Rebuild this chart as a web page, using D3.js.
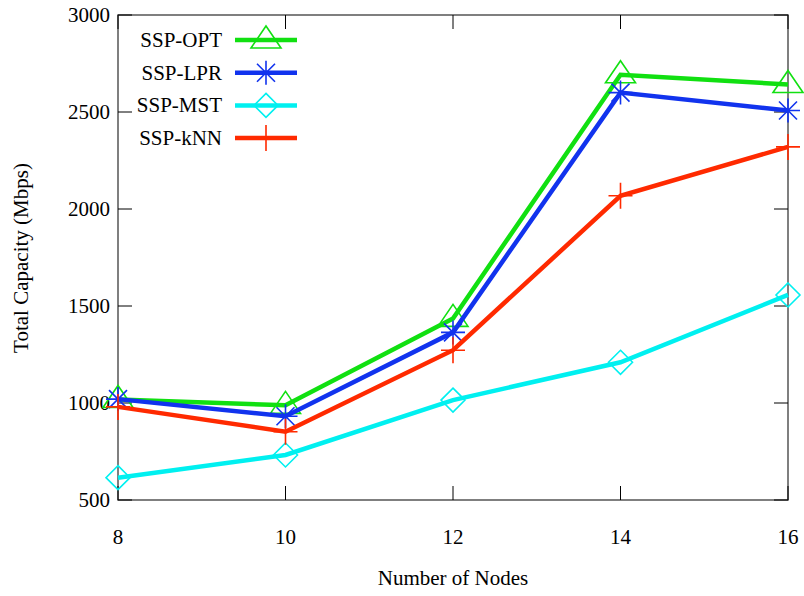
<!DOCTYPE html>
<html>
<head>
<meta charset="utf-8">
<script src="https://cdn.jsdelivr.net/npm/d3@7"></script>
<style>
  body { margin: 0; background: #fff; }
  text { font-family: "Liberation Serif", "DejaVu Serif", serif; fill: #000; }
</style>
</head>
<body>
<svg id="chart" width="804" height="596"></svg>
<script>
// data
var nodes = [8, 10, 12, 14, 16];
var optValues = [1018, 988, 1436, 2692, 2642];
var lprValues = [1020, 932, 1364, 2600, 2508];
var mstValues = [615, 732, 1015, 1210, 1557];
var knnValues = [980, 852, 1272, 2068, 2320];
var yTicks = [500, 1000, 1500, 2000, 2500, 3000];
var seriesNames = ["SSP-OPT", "SSP-LPR", "SSP-MST", "SSP-kNN"];
var seriesColors = ["#11e011", "#1133ee", "#00f0f0", "#ff2a00"];
var seriesMarks = ["triangle", "star", "diamond", "plus"];

var series = [optValues, lprValues, mstValues, knnValues].map(function (vals, i) {
    return { name: seriesNames[i], color: seriesColors[i], mark: seriesMarks[i], values: vals };
});

var plotL = 118, plotR = 788, plotT = 15, plotB = 500;
var svg = d3.select("#chart");

var x = d3.scaleLinear().domain([8, 16]).range([plotL, plotR]);
var y = d3.scaleLinear().domain([500, 3000]).range([plotB, plotT]);

// frame
svg.append("rect")
    .attr("x", plotL).attr("y", plotT)
    .attr("width", plotR - plotL).attr("height", plotB - plotT)
    .attr("fill", "none").attr("stroke", "#555").attr("stroke-width", 1.5);

var tickLen = 14;
// ticks on all four sides, pointing inward
var g = svg.append("g").attr("stroke", "#000").attr("stroke-width", 1);
nodes.forEach(function (n) {
    g.append("line").attr("x1", x(n)).attr("x2", x(n)).attr("y1", plotB).attr("y2", plotB - tickLen);
    g.append("line").attr("x1", x(n)).attr("x2", x(n)).attr("y1", plotT).attr("y2", plotT + tickLen);
});
yTicks.forEach(function (t) {
    g.append("line").attr("x1", plotL).attr("x2", plotL + tickLen).attr("y1", y(t)).attr("y2", y(t));
    g.append("line").attr("x1", plotR).attr("x2", plotR - tickLen).attr("y1", y(t)).attr("y2", y(t));
});

// tick labels
svg.selectAll(".xl").data(nodes).enter().append("text")
    .attr("x", function (d) { return x(d); })
    .attr("y", 544)
    .attr("text-anchor", "middle")
    .style("font-size", "21px")
    .text(function (d) { return d; });

svg.selectAll(".yl").data(yTicks).enter().append("text")
    .attr("x", plotL - 8)
    .attr("y", function (d) { return y(d) + 7; })
    .attr("text-anchor", "end")
    .style("font-size", "21px")
    .text(function (d) { return d; });

// axis titles
svg.append("text")
    .attr("x", 453).attr("y", 585)
    .attr("text-anchor", "middle")
    .style("font-size", "21px")
    .text("Number of Nodes");

svg.append("text")
    .attr("transform", "translate(28,258) rotate(-90)")
    .attr("text-anchor", "middle")
    .style("font-size", "21px")
    .text("Total Capacity (Mbps)");

function drawMark(sel, kind, color) {
    sel.attr("fill", "none").attr("stroke", color).attr("stroke-width", 1.6);
    if (kind === "triangle") {
        sel.append("path").attr("d", "M0,-14L15,8L-15,8Z");
    } else if (kind === "star") {
        sel.append("path").attr("d", "M-12,0H12M0,-12V12M-9,-9L9,9M-9,9L9,-9");
    } else if (kind === "diamond") {
        sel.append("path").attr("d", "M0,-12L12,0L0,12L-12,0Z");
    } else {
        sel.append("path").attr("d", "M-12,0H12M0,-13V13");
    }
}

var line = d3.line()
    .x(function (d, i) { return x(nodes[i]); })
    .y(function (d) { return y(d); });

series.forEach(function (s) {
    svg.append("path")
        .attr("d", line(s.values))
        .attr("fill", "none")
        .attr("stroke", s.color)
        .attr("stroke-width", 4.5)
        .attr("stroke-linejoin", "miter");
    s.values.forEach(function (v, i) {
        var m = svg.append("g").attr("transform", "translate(" + x(nodes[i]) + "," + y(v) + ")");
        drawMark(m, s.mark, s.color);
    });
});

// legend
series.forEach(function (s, i) {
    var ly = 40 + i * 32.7;
    svg.append("text")
        .attr("x", 222).attr("y", ly + 7)
        .attr("text-anchor", "end")
        .style("font-size", "21px")
        .text(s.name);
    svg.append("line")
        .attr("x1", 235).attr("x2", 297)
        .attr("y1", ly).attr("y2", ly)
        .attr("stroke", s.color).attr("stroke-width", 4.5);
    var m = svg.append("g").attr("transform", "translate(266," + ly + ")");
    drawMark(m, s.mark, s.color);
});
</script>
</body>
</html>
